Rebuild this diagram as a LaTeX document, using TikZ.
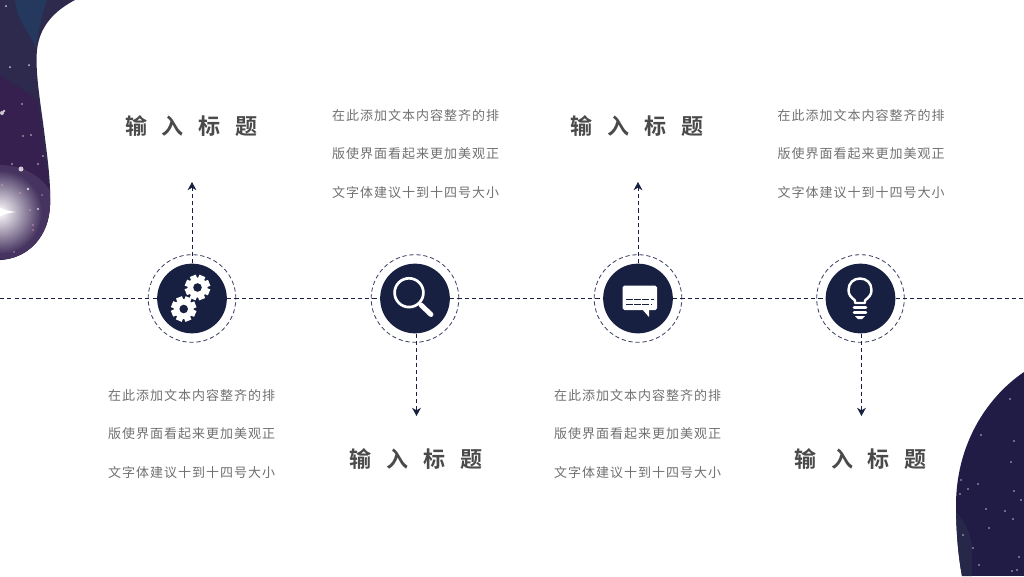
\documentclass[tikz,border=0pt]{standalone}
\usepackage{fontspec}
\usetikzlibrary{arrows.meta}
\newfontfamily\cjk{Noto Sans CJK SC}
\newfontfamily\cjkspaced[LetterSpace=7.5]{Noto Sans CJK SC}
\newfontfamily\cjkwide[LetterSpace=67,BoldFont={Noto Sans CJK SC Bold}]{Noto Sans CJK SC}
\definecolor{navy}{HTML}{172041}
\definecolor{textgray}{HTML}{707070}
\definecolor{headgray}{HTML}{4A4A4A}
\definecolor{skytop}{HTML}{2E2A4E}
\definecolor{skyblue}{HTML}{25395F}
\definecolor{skypurple}{HTML}{36204F}
\definecolor{skyglow}{HTML}{463360}
\definecolor{skydark}{HTML}{211C46}
\definecolor{skyslate}{HTML}{262749}
\tikzset{
	hub/.style={circle,fill=navy,minimum size=70*0.85pt,inner sep=0pt},
	ring/.style={circle,draw=navy!85,line width=0.7pt,dash pattern=on 3.6pt off 2.4pt,minimum size=88*0.85pt,inner sep=0pt},
	dashline/.style={draw=navy,line width=0.75pt,dash pattern=on 3.6pt off 2.6pt},
	heading/.style={anchor=west,inner sep=0pt,text=headgray,font=\fontsize{18.8}{22}\cjkwide\bfseries},
	note/.style={anchor=west,inner sep=0pt,align=left,text=textgray,font=\fontsize{11.1}{32.8}\cjkspaced}
}

\begin{document}
\begin{tikzpicture}[x=0.03cm, y=-0.03cm, >={Stealth[length=7pt,width=7.5pt,inset=2.2pt]}]
	\useasboundingbox (0,0) rectangle (1024,576);

	% Top left sky
	\begin{scope}
		\clip (75,0) .. controls (60,8) and (40,22) .. (37,50) .. controls (35,70) and (40,100) .. (44,130) .. controls (47,155) and (51,180) .. (50,205) .. controls (49,235) and (30,258) .. (0,260) -- (0,0) -- cycle;
		\fill[skytop] (0,0) rectangle (80,265);
		\fill[skyblue] (15,0) .. controls (17,22) and (30,32) .. (36,48) .. controls (38,30) and (42,15) .. (47,0) -- cycle;
		\fill[skypurple] (0,75) .. controls (15,85) and (28,92) .. (38,102) -- (60,265) -- (0,265) -- cycle;
		\begin{scope}
			\clip (0,212) ellipse (56 and 47);
			\fill[skyglow] (0,165) rectangle (60,265);
			\shade[inner color=white,outer color=skyglow] (0,212) circle (42);
		\end{scope}
		\fill[white] (-4,205) .. controls (3,210) and (8,211) .. (16,212) .. controls (8,213) and (3,214) .. (-4,219) -- cycle;
		\foreach \sx/\sy/\sr in {6/6/1,10/67/1,29/65/1,22/104/0.9,23/136/0.9,31/135/0.9,43/156/0.9,38/164/0.9,12/164/0.9,2/113/2,4/111/1.3,21/169/2.5,28/189/1.3,38/209/1.2}
			\fill[white,opacity=0.75] (\sx,\sy) circle (\sr);
		\foreach \sx/\sy in {20/193,2/185,30/210,42/195,33/225,33/230,14/252}
			\fill[pink,opacity=0.6] (\sx,\sy) circle (0.9);
	\end{scope}

	% Bottom right sky
	\begin{scope}
		\clip (1024,372) .. controls (990,395) and (957,440) .. (956,503) .. controls (956,530) and (958,555) .. (962,576) -- (1024,576) -- cycle;
		\fill[skydark] (940,360) rectangle (1024,576);
		\fill[skyslate] (955,510) .. controls (965,522) and (972,535) .. (972,550) -- (972,576) -- (955,576) -- cycle;
		\foreach \sx/\sy in {1010/399,981/435,1014/441,1011/462,961/480,968/489,978/484,960/494,1014/491,986/509,1005/511,1013/519,1021/500,989/528,963/535,973/548,979/565,1019/557,1012/571,1017/570}
			\fill[white,opacity=0.7] (\sx,\sy) circle (0.9);
	\end{scope}

	% Hubs
	\node[ring] (ring1) at (192,298.5) {};
	\node[ring] (ring2) at (415,298.5) {};
	\node[ring] (ring3) at (638,298.5) {};
	\node[ring] (ring4) at (860.5,298.5) {};
	\node[hub] (hub1) at (ring1) {};
	\node[hub] (hub2) at (ring2) {};
	\node[hub] (hub3) at (ring3) {};
	\node[hub] (hub4) at (ring4) {};

	% Timeline
	\coordinate (lineleft) at (0,298.5);
	\coordinate (lineright) at (1024,298.5);
	\draw[dashline] (lineleft) -- (hub1);
	\draw[dashline] (hub1) -- (hub2);
	\draw[dashline] (hub2) -- (hub3);
	\draw[dashline] (hub3) -- (hub4);
	\draw[dashline] (hub4) -- (lineright);

	% Arrows
	\coordinate (tip1) at (192,182);
	\coordinate (tip2) at (416.5,416);
	\coordinate (tip3) at (638,182);
	\coordinate (tip4) at (861.5,416);
	\draw[dashline,->] (hub1.north) -- (tip1);
	\draw[dashline,->] (hub2.south -| tip2) -- (tip2);
	\draw[dashline,->] (hub3.north) -- (tip3);
	\draw[dashline,->] (hub4.south -| tip4) -- (tip4);

	% Gears
	\foreach \gx/\gy in {197.5/287.5,183.7/309}{
		\fill[white] (\gx,\gy) circle (10);
		\foreach \ga in {0,45,...,315}
			\fill[white,rotate around={\ga+22:(\gx,\gy)}] (\gx-3.2,\gy-12.6) rectangle (\gx+3.2,\gy);
		\fill[navy] (\gx,\gy) circle (4.3);
	}

	% Magnifier
	\draw[white,line width=2.3pt] (409,292.7) circle (14.4);
	\draw[white,line width=4.2pt,line cap=round] (421,305) -- (431,314.5);

	% Message
	\fill[white,rounded corners=1.5] (622.5,285.5) rectangle (657,310);
	\fill[white] (642,309) -- (649,317) -- (649,309) -- cycle;
	\draw[navy,line width=1.2pt,dash pattern=on 6pt off 1pt] (626,299.7) -- (653.5,299.7);
	\draw[navy,line width=1.2pt,dash pattern=on 6pt off 1pt] (626,304.2) -- (651,304.2);

	% Bulb
	\draw[white,line width=2.1pt,line join=round] (855,303) -- (855,300.5) .. controls (851,297) and (848.5,295) .. (848.5,290) .. controls (848.5,283) and (853.5,278.5) .. (860,278.5) .. controls (866.5,278.5) and (871.5,283) .. (871.5,290) .. controls (871.5,295) and (869,297) .. (865,300.5) -- (865,303) -- cycle;
	\draw[white,line width=2.2pt,line cap=round] (854,307.5) -- (866,307.5);
	\draw[white,line width=2.2pt,line cap=round] (854,312.5) -- (866,312.5);
	\fill[white] (855,316) -- (865,316) -- (862,319) -- (858,319) -- cycle;

	% Headings
	\node[heading] (title1) at (125,126) {输入标题};
	\node[heading] (title2) at (349.5,459) {输入标题};
	\node[heading] (title3) at (570.5,126) {输入标题};
	\node[heading] (title4) at (794,459) {输入标题};

	% Notes
	\node[note] (note1) at (108,434) {在此添加文本内容整齐的排\\版使界面看起来更加美观正\\文字体建议十到十四号大小};
	\node[note] (note2) at (332,154) {在此添加文本内容整齐的排\\版使界面看起来更加美观正\\文字体建议十到十四号大小};
	\node[note] (note3) at (554,434) {在此添加文本内容整齐的排\\版使界面看起来更加美观正\\文字体建议十到十四号大小};
	\node[note] (note4) at (777.5,154) {在此添加文本内容整齐的排\\版使界面看起来更加美观正\\文字体建议十到十四号大小};
\end{tikzpicture}
\end{document}
